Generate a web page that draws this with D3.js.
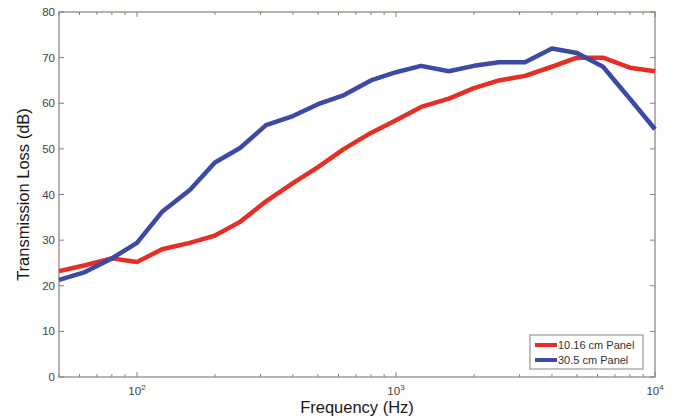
<!DOCTYPE html>
<html>
<head>
<meta charset="utf-8">
<script src="https://cdn.jsdelivr.net/npm/d3@7"></script>
<style>
  body { margin: 0; background: #fdfdfc; }
  svg { display: block; font-family: "Liberation Sans", Arial, sans-serif; }
</style>
</head>
<body>
<svg width="676" height="420"></svg>
<script>
// one-third octave band centre frequencies (Hz)
var freqs = [50, 63, 80, 100, 125, 160, 200, 250, 315, 400, 500, 630, 800,
             1000, 1250, 1600, 2000, 2500, 3150, 4000, 5000, 6300, 8000, 10000];
var panel10 = [23.2, 24.5, 26, 25.2, 28, 29.4, 31, 34, 38.5, 42.5, 46, 50, 53.5,
               56.3, 59.2, 61, 63.3, 65, 66, 68, 70, 70, 67.8, 67];
var panel30 = [21.3, 23, 26, 29.4, 36.2, 41, 47, 50.2, 55.2, 57.2, 59.8, 61.8, 65,
               66.8, 68.2, 67, 68.2, 69, 69, 72, 71, 68, 61, 54.3];
var seriesNames = ["10.16 cm Panel", "30.5 cm Panel"];
var seriesColors = ["#e62e25", "#3a4aa6"];
var yTicks = [0, 10, 20, 30, 40, 50, 60, 70, 80];
var xDecades = [2, 3, 4];

var svg = d3.select("svg");
var pL = 59, pR = 655, pT = 12, pB = 377;
var axisColor = "#8a7f7c";

var x = d3.scaleLog().domain([50, 10000]).range([pL, pR]);
var y = d3.scaleLinear().domain([0, 80]).range([pB, pT]);

// frame
svg.append("rect")
  .attr("x", pL).attr("y", pT)
  .attr("width", pR - pL).attr("height", pB - pT)
  .attr("fill", "#ffffff").attr("stroke", axisColor).attr("stroke-width", 1.2);

// y ticks (inside, both sides)
var yg = svg.append("g");
yTicks.forEach(function(t) {
  yg.append("line").attr("x1", pL).attr("x2", pL + 5)
    .attr("y1", y(t)).attr("y2", y(t)).attr("stroke", axisColor);
  yg.append("line").attr("x1", pR - 5).attr("x2", pR)
    .attr("y1", y(t)).attr("y2", y(t)).attr("stroke", axisColor);
  yg.append("text").attr("x", pL - 4).attr("y", y(t) + 4)
    .attr("text-anchor", "end").attr("font-size", 11.5).attr("fill", "#444")
    .text(t);
});

// x ticks, major + minor, top and bottom
var minor = x.ticks().filter(function(v) { return v >= 50 && v <= 10000; });
var xg = svg.append("g");
minor.forEach(function(v) {
  var isMajor = Math.abs(Math.log10(v) - Math.round(Math.log10(v))) < 1e-9;
  var len = isMajor ? 5 : 3;
  xg.append("line").attr("x1", x(v)).attr("x2", x(v))
    .attr("y1", pB).attr("y2", pB - len).attr("stroke", axisColor);
  xg.append("line").attr("x1", x(v)).attr("x2", x(v))
    .attr("y1", pT).attr("y2", pT + len).attr("stroke", axisColor);
});
xDecades.forEach(function(p) {
  var t = xg.append("text").attr("x", x(Math.pow(10, p))).attr("y", 395)
    .attr("text-anchor", "middle").attr("font-size", 11.5).attr("fill", "#444");
  t.append("tspan").text("10");
  t.append("tspan").attr("dy", -5).attr("font-size", 8).text(p);
});

// lines
var line = d3.line()
  .x(function(d, i) { return x(freqs[i]); })
  .y(function(d) { return y(d); });

[panel10, panel30].forEach(function(s, i) {
  svg.append("path").datum(s)
    .attr("d", line)
    .attr("fill", "none")
    .attr("stroke", seriesColors[i])
    .attr("stroke-width", 4.5)
    .attr("stroke-linejoin", "round");
});

// axis labels
svg.append("text").attr("x", (pL + pR) / 2).attr("y", 413)
  .attr("text-anchor", "middle").attr("font-size", 16.5).attr("fill", "#1a1a1a")
  .text("Frequency (Hz)");
svg.append("text")
  .attr("transform", "translate(29," + ((pT + pB) / 2) + ") rotate(-90)")
  .attr("text-anchor", "middle").attr("font-size", 16.5).attr("fill", "#1a1a1a")
  .text("Transmission Loss (dB)");

// legend
var lg = svg.append("g").attr("transform", "translate(530,335)");
lg.append("rect").attr("width", 113).attr("height", 34)
  .attr("fill", "#fff").attr("stroke", axisColor);
seriesNames.forEach(function(n, i) {
  var yy = 10 + i * 15;
  lg.append("line").attr("x1", 5).attr("x2", 27).attr("y1", yy).attr("y2", yy)
    .attr("stroke", seriesColors[i]).attr("stroke-width", 4);
  lg.append("text").attr("x", 28).attr("y", yy + 4)
    .attr("font-size", 11).attr("fill", "#333").text(n);
});
</script>
</body>
</html>
